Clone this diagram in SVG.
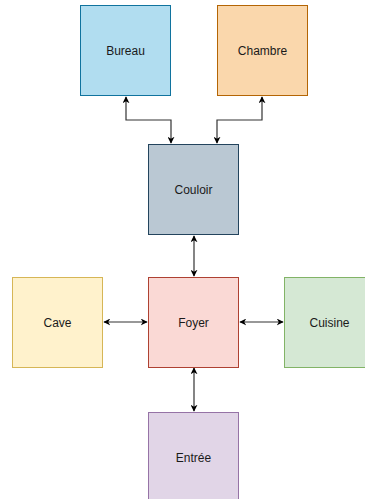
<svg xmlns="http://www.w3.org/2000/svg" width="365" height="499" viewBox="0 0 365 499">
<style>
.n{stroke-width:1}
.t{font-family:"Liberation Sans",Arial,sans-serif;font-size:12px;fill:#1a1a1a;text-anchor:middle;dominant-baseline:central}
.c{fill:none;stroke:#333;stroke-width:1.2}
</style>
<defs>
<marker id="a" viewBox="0 0 10 10" refX="9" refY="5" markerWidth="7" markerHeight="7" orient="auto-start-reverse" markerUnits="userSpaceOnUse">
<path d="M0,0 L10,5 L0,10 L3,5 Z" fill="#000"/>
</marker>
</defs>
<rect width="365" height="499" fill="#fff"/>
<g id="connectors">
<path class="c" d="M126,97 V120 H171 V143" marker-start="url(#a)" marker-end="url(#a)"/>
<path class="c" d="M262,97 V120 H217 V143" marker-start="url(#a)" marker-end="url(#a)"/>
<path class="c" d="M194,236 V276" marker-start="url(#a)" marker-end="url(#a)"/>
<path class="c" d="M104,322 H147" marker-start="url(#a)" marker-end="url(#a)"/>
<path class="c" d="M240,322 H283" marker-start="url(#a)" marker-end="url(#a)"/>
<path class="c" d="M194,368 V411" marker-start="url(#a)" marker-end="url(#a)"/>
</g>
<g id="bureau"><rect class="n" x="80.5" y="5.5" width="90" height="90" fill="#b1ddf0" stroke="#10739e"/><text class="t" x="125.5" y="50.5">Bureau</text></g>
<g id="chambre"><rect class="n" x="217.5" y="5.5" width="90" height="90" fill="#fad7ac" stroke="#b46504"/><text class="t" x="262.5" y="50.5">Chambre</text></g>
<g id="couloir"><rect class="n" x="148.5" y="144.5" width="90" height="90" fill="#bac8d3" stroke="#23445d"/><text class="t" x="193.5" y="189.5">Couloir</text></g>
<g id="foyer"><rect class="n" x="148.5" y="277.5" width="90" height="90" fill="#fad9d5" stroke="#ae4132"/><text class="t" x="193.5" y="322.5">Foyer</text></g>
<g id="cave"><rect class="n" x="12.5" y="277.5" width="90" height="90" fill="#fff2cc" stroke="#d6b656"/><text class="t" x="57.5" y="322.5">Cave</text></g>
<g id="cuisine"><rect class="n" x="284.5" y="277.5" width="90" height="90" fill="#d5e8d4" stroke="#82b366"/><text class="t" x="329.5" y="322.5">Cuisine</text></g>
<g id="entree"><rect class="n" x="148.5" y="412.5" width="90" height="90" fill="#e1d5e7" stroke="#9673a6"/><text class="t" x="193.5" y="457.5">Entrée</text></g>
</svg>
